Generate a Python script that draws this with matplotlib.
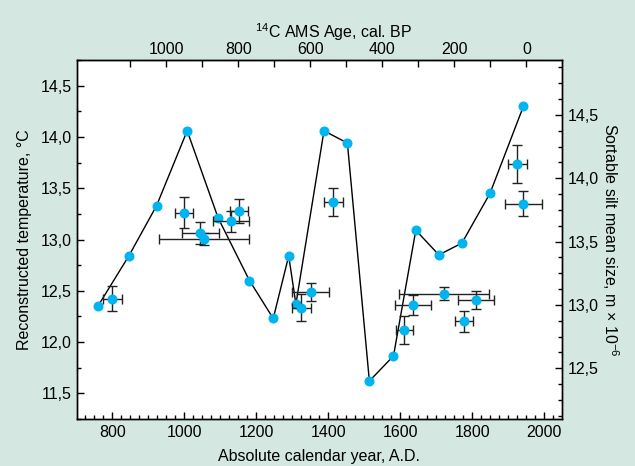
import matplotlib
matplotlib.use("Agg")
import matplotlib.pyplot as plt
from matplotlib.ticker import MultipleLocator, FixedLocator, FuncFormatter

plt.rcParams['font.family'] = ['Liberation Sans', 'DejaVu Sans']
plt.rcParams['mathtext.fontset'] = 'custom'
plt.rcParams['mathtext.rm'] = 'Liberation Sans'
plt.rcParams['mathtext.it'] = 'Liberation Sans'

# Reconstructed temperature (left axis)
temp_year = [760, 846, 923, 1008, 1094, 1181, 1247, 1290, 1310, 1388, 1453, 1514,
             1581, 1643, 1707, 1771, 1849, 1942]
temp_val = [12.35, 12.84, 13.33, 14.06, 13.21, 12.60, 12.23, 12.84, 12.37, 14.06, 13.94,
            11.62, 11.865, 13.09, 12.85, 12.965, 13.45, 14.30]

# Sortable silt mean size (right axis) with errors
silt_year = [800, 999, 1044, 1055, 1130, 1152, 1325, 1351, 1414, 1611, 1635, 1722,
             1776, 1811, 1925, 1942]
silt_val = [13.05, 13.73, 13.57, 13.52, 13.66, 13.74, 12.98, 13.10, 13.81, 12.80, 13.00,
            13.09, 12.87, 13.04, 14.11, 13.80]
silt_xerr = [26, 25, 51, 125, 50, 25, 26, 52, 26, 24, 51, 125, 25, 50, 27, 51]
silt_yerr = [0.10, 0.12, 0.085, 0.05, 0.085, 0.095, 0.11, 0.07, 0.11, 0.11, 0.076, 0.05,
             0.084, 0.07, 0.15, 0.10]

# Top axis (cal. BP)
bp_major = [1000, 800, 600, 400, 200, 0]
bp_minor = [1100, 900, 700, 500, 300, 100, -100]

bg = '#d4e7e0'
dot = '#00b5ef'

fig = plt.figure(figsize=(6.35, 4.66), dpi=100, facecolor=bg)
ax = fig.add_axes([77/635, 1-419/466, (562-77)/635, (419-60)/466])
ax.set_facecolor('white')

ax.plot(temp_year, temp_val, color='black', lw=1.0, marker='o', ms=6.2,
        mfc=dot, mec=dot, zorder=3)
ax.set_xlim(702, 2049)
ax.set_ylim(11.25, 14.75)
ax.xaxis.set_major_locator(MultipleLocator(200))
ax.xaxis.set_minor_locator(MultipleLocator(25))
ax.yaxis.set_major_locator(MultipleLocator(0.5))
ax.yaxis.set_minor_locator(MultipleLocator(0.25))
comma = FuncFormatter(lambda v, p: f"{v:.1f}".replace('.', ','))
ax.yaxis.set_major_formatter(comma)
ax.tick_params(axis='both', which='major', direction='in', length=5, width=1, labelsize=11.5, pad=4)
ax.tick_params(axis='both', which='minor', direction='in', length=3, width=1)
ax.tick_params(axis='x', which='both', top=False)
ax.set_xlabel('Absolute calendar year, A.D.', fontsize=11.5, labelpad=7)
ax.set_ylabel('Reconstructed temperature, °C', fontsize=11.5, labelpad=6)

ax2 = ax.twinx()
ax2.errorbar(silt_year, silt_val, xerr=silt_xerr, yerr=silt_yerr, fmt='o', ms=6.2,
             mfc=dot, mec=dot, ecolor='#222222', elinewidth=1.0, capsize=3.5,
             capthick=1.0, zorder=3)
ax2.set_ylim(12.1, 14.934)
ax2.yaxis.set_major_locator(MultipleLocator(0.5))
ax2.yaxis.set_minor_locator(MultipleLocator(0.125))
ax2.yaxis.set_major_formatter(comma)
ax2.tick_params(axis='y', which='major', direction='in', length=5, width=1, labelsize=11.5, pad=4)
ax2.tick_params(axis='y', which='minor', direction='in', length=3, width=1)
ax2.set_ylabel('Sortable silt mean size, m × 10$^{-6}$', fontsize=11.5, rotation=270, labelpad=16)

sec = ax.secondary_xaxis('top', functions=(lambda x: 1950 - x, lambda x: 1950 - x))
sec.xaxis.set_major_locator(FixedLocator(bp_major))
sec.xaxis.set_minor_locator(FixedLocator(bp_minor))
sec.tick_params(axis='x', which='major', direction='in', length=5, width=1, labelsize=11.5, pad=2)
sec.tick_params(axis='x', which='minor', direction='in', length=5, width=1)
sec.set_xlabel('$^{14}$C AMS Age, cal. BP', fontsize=11.5, labelpad=3)
sec.xaxis.label.set_x(0.53)

for a in (ax, ax2):
    for s in a.spines.values():
        s.set_linewidth(1.0)

fig.savefig('out.png', dpi=100, facecolor=bg)
